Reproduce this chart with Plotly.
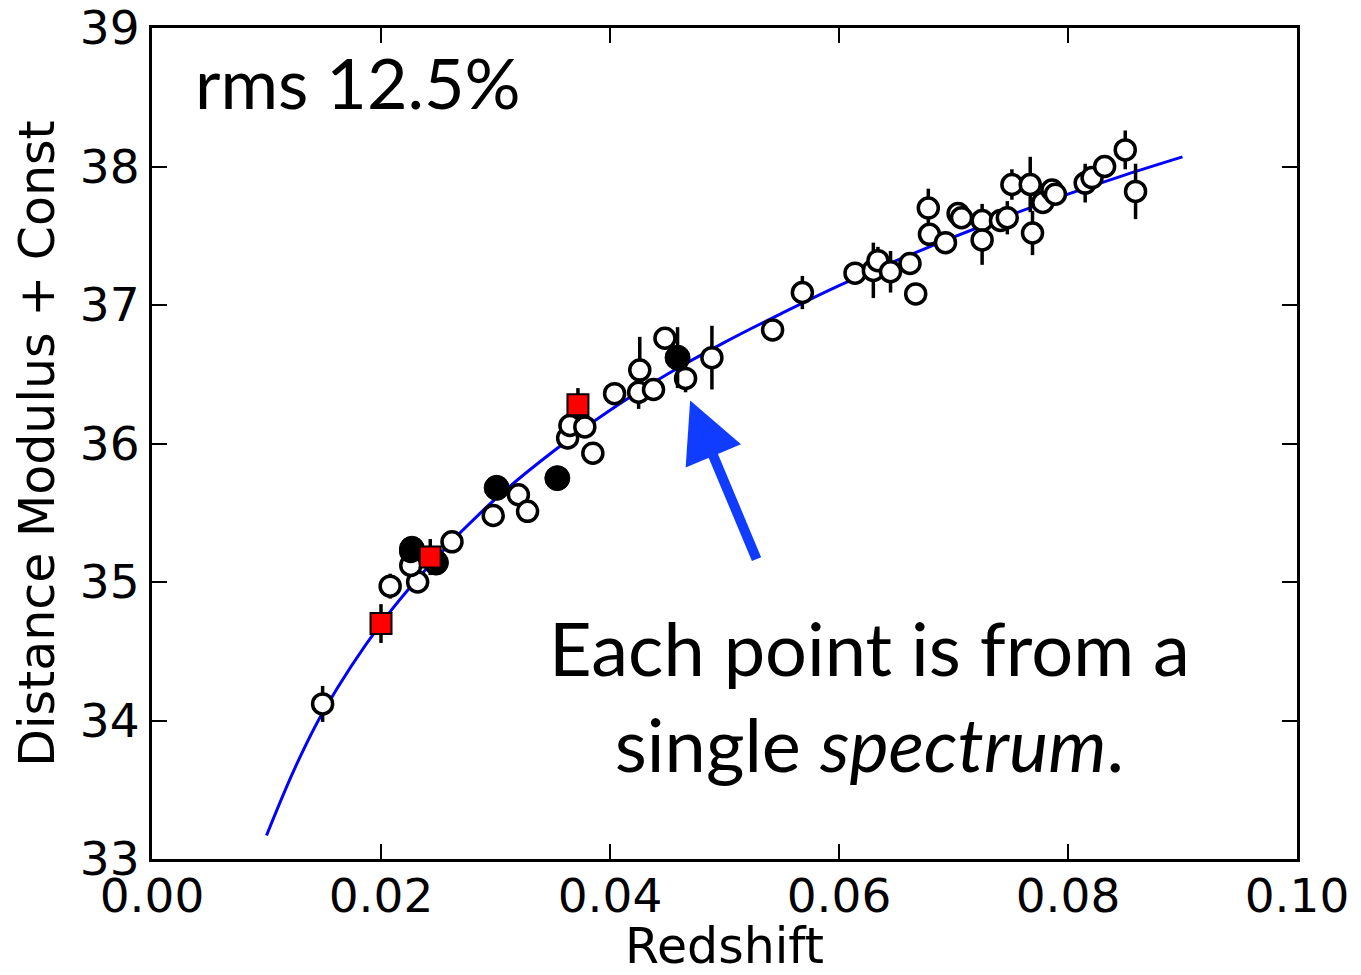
import plotly.graph_objects as go

# ---- data ----
open_z = [0.0149, 0.0208, 0.0232, 0.0226, 0.0226, 0.0262, 0.0298, 0.0320, 0.0328, 0.0363,
          0.0365, 0.0378, 0.0385, 0.0404, 0.0425, 0.0426, 0.0438, 0.0448, 0.0466, 0.0489,
          0.0542, 0.0568, 0.0614, 0.0630, 0.0634, 0.0645, 0.0662, 0.0667, 0.0678, 0.0679,
          0.0693, 0.0704, 0.0707, 0.0725, 0.0725, 0.0741, 0.0747, 0.0751, 0.0767, 0.0769,
          0.0778, 0.0786, 0.0789, 0.0815, 0.0821, 0.0832, 0.0850, 0.0859]
open_mu = [34.12, 34.97, 35.00, 35.12, 35.22, 35.29, 35.48, 35.63, 35.51, 36.04,
           36.13, 36.12, 35.93, 36.36, 36.37, 36.53, 36.39, 36.76, 36.47, 36.62,
           36.82, 37.09, 37.23, 37.25, 37.32, 37.24, 37.30, 37.08, 37.70, 37.51,
           37.45, 37.66, 37.63, 37.61, 37.47, 37.61, 37.63, 37.87, 37.87, 37.52,
           37.74, 37.83, 37.80, 37.88, 37.92, 38.00, 38.12, 37.82]
open_err = [0.13, 0.09, 0.05, 0.05, 0.10, 0.05, 0.05, 0.05, 0.05, 0.05,
            0.05, 0.05, 0.05, 0.05, 0.12, 0.24, 0.05, 0.05, 0.10, 0.23,
            0.05, 0.12, 0.05, 0.20, 0.10, 0.15, 0.05, 0.05, 0.14, 0.05,
            0.05, 0.05, 0.05, 0.12, 0.18, 0.05, 0.12, 0.11, 0.20, 0.16,
            0.05, 0.05, 0.05, 0.14, 0.05, 0.05, 0.14, 0.20]

filled_z = [0.0227, 0.0248, 0.0301, 0.0354, 0.0459]
filled_mu = [35.24, 35.14, 35.68, 35.75, 36.62]
filled_err = [0.08, 0.05, 0.05, 0.05, 0.22]

red_z = [0.0200, 0.0243, 0.0372]
red_mu = [34.70, 35.18, 36.28]
red_err = [0.14, 0.13, 0.12]

curve_z = [0.010, 0.0125, 0.015, 0.020, 0.025, 0.030, 0.035, 0.040, 0.045, 0.050,
           0.055, 0.060, 0.065, 0.070, 0.075, 0.080, 0.085, 0.090]
curve_mu = [33.17, 33.66, 34.07, 34.70, 35.19, 35.60, 35.94, 36.24, 36.50, 36.73,
            36.94, 37.14, 37.32, 37.49, 37.65, 37.80, 37.94, 38.07]

x_ticks = [0.00, 0.02, 0.04, 0.06, 0.08, 0.10]
y_ticks = [33, 34, 35, 36, 37, 38, 39]

fig = go.Figure()

fig.add_trace(go.Scatter(
    x=curve_z, y=curve_mu, mode="lines", line=dict(color="#0000ff", width=3, shape="spline"),
    showlegend=False, hoverinfo="skip"))

fig.add_trace(go.Scatter(
    x=open_z, y=open_mu, mode="markers",
    marker=dict(symbol="circle", size=20, color="white", line=dict(color="black", width=3.5)),
    error_y=dict(type="data", array=open_err, color="black", thickness=3.5, width=0),
    showlegend=False))

fig.add_trace(go.Scatter(
    x=filled_z, y=filled_mu, mode="markers",
    marker=dict(symbol="circle", size=25, color="black", line=dict(color="black", width=1)),
    error_y=dict(type="data", array=filled_err, color="black", thickness=3.5, width=0),
    showlegend=False))

fig.add_trace(go.Scatter(
    x=red_z, y=red_mu, mode="markers",
    marker=dict(symbol="square", size=21, color="#ff0000", line=dict(color="black", width=2)),
    error_y=dict(type="data", array=red_err, color="black", thickness=3.5, width=0),
    showlegend=False))

tick_font = dict(family="DejaVu Sans", size=47, color="black")
title_font = dict(family="DejaVu Sans", size=49, color="black")

fig.update_layout(
    width=1361, height=975,
    margin=dict(l=152, r=64, t=28, b=116),
    paper_bgcolor="white", plot_bgcolor="white",
    xaxis=dict(
        range=[0, 0.1], tickvals=x_ticks, ticktext=[f"{v:.2f}" for v in x_ticks],
        showgrid=False, zeroline=False, showline=True, linecolor="black", linewidth=3,
        mirror="ticks", ticks="inside", ticklen=15, tickwidth=1.5, tickcolor="black",
        tickfont=tick_font, ticklabelstandoff=-6, automargin=False,
        title=dict(text="Redshift", font=title_font, standoff=36)),
    yaxis=dict(
        range=[33, 39], tickvals=y_ticks, ticktext=[str(v) for v in y_ticks],
        showgrid=False, zeroline=False, showline=True, linecolor="black", linewidth=3,
        mirror="ticks", ticks="inside", ticklen=15, tickwidth=1.5, tickcolor="black",
        tickfont=tick_font, ticklabelstandoff=0, automargin=False,
        title=dict(text="Distance Modulus + Const", font=title_font, standoff=10)),
    annotations=[
        dict(text="rms 12.5%", xref="paper", yref="paper", x=0.036, y=0.935,
             xanchor="left", yanchor="middle", showarrow=False,
             font=dict(family="Lato", size=70, color="black")),
        dict(text="Each point is from a<br>single <i>spectrum</i>.", xref="paper", yref="paper",
             x=0.627, y=0.197, xanchor="center", yanchor="middle", showarrow=False,
             font=dict(family="Lato", size=74, color="black")),
        dict(text="", x=0.0470, y=36.31, xref="x", yref="y", ax=67, ay=160,
             axref="pixel", ayref="pixel", showarrow=True, arrowhead=2,
             arrowsize=1.2, arrowwidth=10, arrowcolor="#0f3cff"),
    ],
)

fig.write_html("out.html")
